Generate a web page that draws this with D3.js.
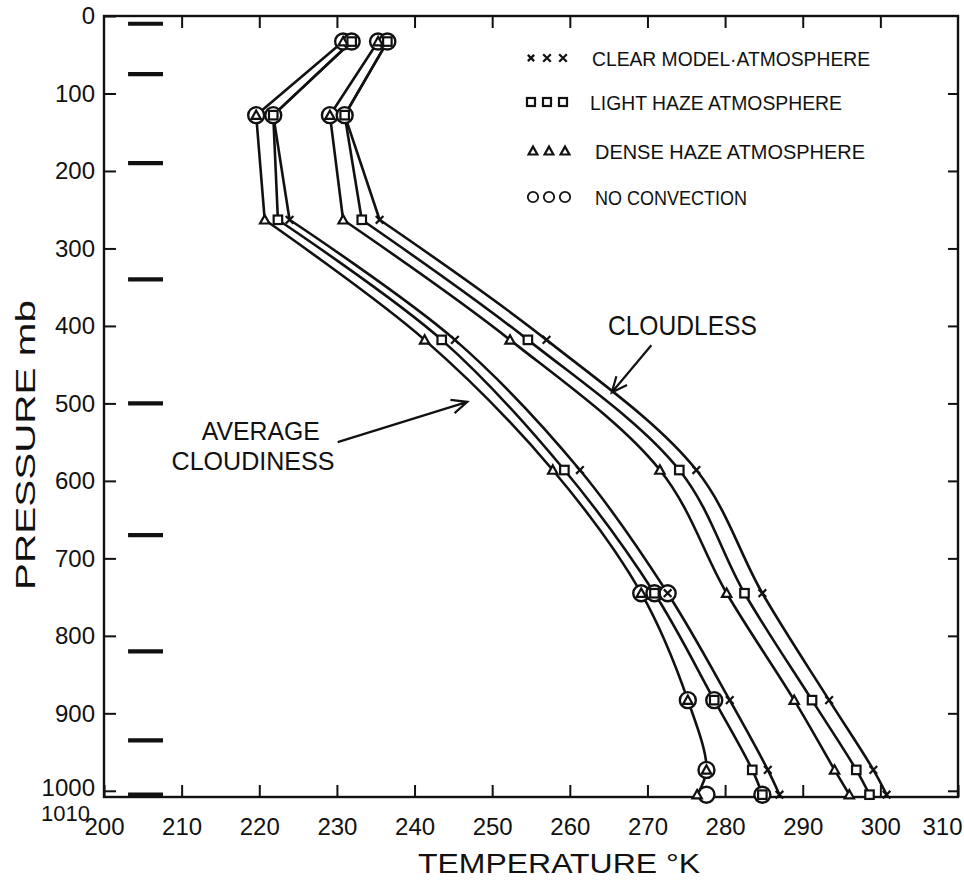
<!DOCTYPE html>
<html>
<head>
<meta charset="utf-8">
<script src="https://cdn.jsdelivr.net/npm/d3@7"></script>
<style>
  html, body { margin: 0; padding: 0; background: #fff; }
  svg { display: block; }
  text { font-family: "Liberation Sans", Arial, sans-serif; fill: #111; }
</style>
</head>
<body>
<svg id="chart" width="964" height="887"></svg>
<script>
// Pressure levels (mb) of the model layers where temperatures are plotted
const pressureLevels = [33, 128, 263, 418, 586, 745, 883, 973, 1005];

// Cloudless sky, temperature (K) at each level
const cloudlessClear = [236.5, 231.0, 235.5, 257.0, 276.3, 284.8, 293.4, 299.1, 300.8];
const cloudlessLight = [236.5, 231.0, 233.2, 254.6, 274.1, 282.5, 291.2, 296.9, 298.6];
const cloudlessDense = [235.3, 229.1, 230.8, 252.3, 271.6, 280.2, 288.9, 294.1, 296.0];

// Average cloudiness, temperature (K) at each level
const averageClear = [231.9, 221.8, 223.9, 245.2, 261.3, 272.6, 280.6, 285.5, 287.0];
const averageLight = [231.9, 221.8, 222.4, 243.5, 259.3, 270.9, 278.6, 283.5, 284.8];
const averageDense = [230.8, 219.6, 220.7, 241.3, 257.8, 269.2, 275.2, 277.6, 276.4];

// No-convection results (circles)
const noConvCloudlessT = [235.3, 236.5, 229.1, 231.0];
const noConvCloudlessP = [33, 33, 128, 128];
const noConvAverageT = [230.8, 231.9, 219.6, 221.8, 269.2, 270.9, 272.6, 275.2, 278.6, 277.6, 277.6, 284.8];
const noConvAverageP = [33, 33, 128, 128, 745, 745, 745, 883, 883, 973, 1005, 1005];

// Model layer boundaries (mb), marked along the left side
const layerBounds = [10, 75, 190, 340, 500, 670, 820, 935, 1005];

// Axis ticks
const tempTicks = [200, 210, 220, 230, 240, 250, 260, 270, 280, 290, 300, 310];
const pressTicks = [0, 100, 200, 300, 400, 500, 600, 700, 800, 900, 1000];

const legendItems = [
  { label: "CLEAR MODEL\u00B7ATMOSPHERE", symbol: "cross" },
  { label: "LIGHT HAZE ATMOSPHERE", symbol: "square" },
  { label: "DENSE HAZE ATMOSPHERE", symbol: "triangle" },
  { label: "NO CONVECTION", symbol: "circle" }
];

const ink = "#111";
const svg = d3.select("#chart");

const x = d3.scaleLinear().domain([200, 310]).range([104, 958]);
const y = d3.scaleLinear().domain([0, 1008]).range([16, 797]);
const plain = d3.format("d");

// ---- frame and axes ----
const axisStyle = g => {
  g.select(".domain").remove();
  g.selectAll(".tick line").attr("stroke", ink).attr("stroke-width", 2);
  g.selectAll(".tick text").attr("fill", ink).style("font-size", "24px")
    .style("font-family", "'Liberation Sans', Arial, sans-serif");
};

const bottomAxis = svg.append("g")
  .attr("transform", `translate(0,${y.range()[1]})`)
  .call(d3.axisBottom(x).tickValues(tempTicks).tickFormat(plain)
    .tickSizeInner(-12).tickSizeOuter(0).tickPadding(21))
  .call(axisStyle);
// last label sits against the page edge
bottomAxis.selectAll(".tick text")
  .filter(d => d === 310)
  .attr("text-anchor", "end").attr("x", 962 - x(310));

svg.append("g")
  .attr("transform", `translate(0,${y.range()[0]})`)
  .call(d3.axisTop(x).tickValues(tempTicks.slice(1, -1)).tickSizeInner(-12).tickSizeOuter(0).tickFormat(""))
  .call(axisStyle);

const leftAxis = svg.append("g")
  .attr("transform", `translate(${x.range()[0]},0)`)
  .call(d3.axisLeft(y).tickValues(pressTicks).tickFormat(plain)
    .tickSizeInner(-12).tickSizeOuter(0).tickPadding(9))
  .call(axisStyle);
leftAxis.selectAll(".tick text").filter(d => d === 1000).attr("dy", "0.2em");

svg.append("g")
  .attr("transform", `translate(${x.range()[1]},0)`)
  .call(d3.axisRight(y).tickValues(pressTicks.slice(1)).tickSizeInner(-10).tickSizeOuter(0).tickFormat(""))
  .call(axisStyle);

// bottom label of the pressure axis
svg.append("text")
  .attr("x", x(200) - 14).attr("y", y(1008) + 16)
  .attr("text-anchor", "end").attr("dominant-baseline", "central")
  .style("font-size", "22px").text("1010");

svg.append("rect")
  .attr("x", x(200)).attr("y", y(0))
  .attr("width", x(310) - x(200)).attr("height", y(1008) - y(0))
  .attr("fill", "none").attr("stroke", ink).attr("stroke-width", 2.4);

// layer boundary dashes
svg.append("g").selectAll("line").data(layerBounds).join("line")
  .attr("x1", x(203.1)).attr("x2", x(207.6))
  .attr("y1", d => y(d)).attr("y2", d => y(d))
  .attr("stroke", ink).attr("stroke-width", 4.2);

// ---- axis titles ----
svg.append("text")
  .attr("x", 559).attr("y", 873)
  .attr("text-anchor", "middle")
  .attr("textLength", 282).attr("lengthAdjust", "spacingAndGlyphs")
  .style("font-size", "27px").text("TEMPERATURE \u00B0K");

svg.append("text")
  .attr("transform", `translate(35,${445}) rotate(-90)`)
  .attr("text-anchor", "middle")
  .attr("textLength", 290).attr("lengthAdjust", "spacingAndGlyphs")
  .style("font-size", "28px").text("PRESSURE  mb");

// ---- curves ----
const series = [
  { values: cloudlessClear, symbol: "cross" },
  { values: cloudlessLight, symbol: "square" },
  { values: cloudlessDense, symbol: "triangle" },
  { values: averageClear, symbol: "cross" },
  { values: averageLight, symbol: "square" },
  { values: averageDense, symbol: "triangle" }
];

const upper = d3.line().x(d => x(d[0])).y(d => y(d[1])).curve(d3.curveLinear);
const lower = d3.line().x(d => x(d[0])).y(d => y(d[1])).curve(d3.curveCatmullRom.alpha(0.5));

const curveG = svg.append("g").attr("fill", "none").attr("stroke", ink)
  .attr("stroke-width", 2.6).attr("stroke-linejoin", "round");

series.forEach(s => {
  const pts = s.values.map((t, i) => [t, pressureLevels[i]]);
  curveG.append("path").attr("d", upper(pts.slice(0, 3)));
  curveG.append("path").attr("d", lower(pts.slice(2)));
});

// ---- markers ----
function drawSymbol(g, type, cx, cy, scale = 1) {
  if (type === "cross") {
    const h = 4.5 * scale;
    g.append("path")
      .attr("d", `M${cx - h},${cy - h}L${cx + h},${cy + h}M${cx - h},${cy + h}L${cx + h},${cy - h}`)
      .attr("stroke", ink).attr("stroke-width", 2.2).attr("fill", "none");
  } else if (type === "square") {
    const h = 5 * scale;
    g.append("rect").attr("x", cx - h).attr("y", cy - h)
      .attr("width", 2 * h).attr("height", 2 * h)
      .attr("fill", "#fff").attr("stroke", ink).attr("stroke-width", 2.2);
  } else if (type === "triangle") {
    const h = 5.5 * scale;
    g.append("path")
      .attr("d", `M${cx},${cy - h}L${cx + h},${cy + h * 0.8}L${cx - h},${cy + h * 0.8}Z`)
      .attr("fill", "#fff").attr("stroke", ink).attr("stroke-width", 2.2);
  } else if (type === "circle") {
    g.append("circle").attr("cx", cx).attr("cy", cy).attr("r", 8 * scale)
      .attr("fill", "#fff").attr("stroke", ink).attr("stroke-width", 2.4);
  }
}

const markerG = svg.append("g");
noConvCloudlessT.forEach((t, i) => drawSymbol(markerG, "circle", x(t), y(noConvCloudlessP[i])));
noConvAverageT.forEach((t, i) => drawSymbol(markerG, "circle", x(t), y(noConvAverageP[i])));
series.forEach(s => {
  s.values.forEach((t, i) => drawSymbol(markerG, s.symbol, x(t), y(pressureLevels[i]), 0.85));
});

// ---- legend ----
const legendRows = [58, 102, 151, 197];
const legendWidths = [278, 252, 270, 152];
const legendG = svg.append("g");
legendItems.forEach((item, i) => {
  const cy = legendRows[i];
  [0, 1, 2].forEach(k => {
    const sc = item.symbol === "cross" ? (k === 0 ? 0.7 : 0.85) : 0.8;
    const cx = 531 + k * 16;
    if (item.symbol === "circle") {
      legendG.append("circle").attr("cx", cx + 2).attr("cy", cy).attr("r", 5.2)
        .attr("fill", "none").attr("stroke", ink).attr("stroke-width", 1.8);
    } else {
      drawSymbol(legendG, item.symbol, cx + (item.symbol === "triangle" ? 2 : 0), cy, sc);
    }
  });
  legendG.append("text")
    .attr("x", i === 0 ? 592 : (i === 1 ? 590 : 595)).attr("y", cy)
    .attr("dominant-baseline", "central")
    .attr("textLength", legendWidths[i]).attr("lengthAdjust", "spacingAndGlyphs")
    .style("font-size", "21px").text(item.label);
});

// ---- annotations ----
function arrow(g, from, to) {
  const x1 = x(from[0]), y1 = y(from[1]), x2 = x(to[0]), y2 = y(to[1]);
  const ang = Math.atan2(y2 - y1, x2 - x1);
  const len = 17, spread = 0.42;
  g.append("path")
    .attr("d", `M${x1},${y1}L${x2},${y2}` +
      `M${x2 - len * Math.cos(ang - spread)},${y2 - len * Math.sin(ang - spread)}L${x2},${y2}` +
      `L${x2 - len * Math.cos(ang + spread)},${y2 - len * Math.sin(ang + spread)}`)
    .attr("fill", "none").attr("stroke", ink).attr("stroke-width", 2.2)
    .attr("stroke-linejoin", "miter");
}

const annG = svg.append("g");
annG.append("text")
  .attr("x", x(274.5)).attr("y", y(399))
  .attr("text-anchor", "middle").attr("dominant-baseline", "central")
  .attr("textLength", 149).attr("lengthAdjust", "spacingAndGlyphs")
  .style("font-size", "28px").text("CLOUDLESS");
arrow(annG, [270.5, 425], [265.4, 486]);

annG.append("text")
  .attr("x", x(220.2)).attr("y", y(535))
  .attr("text-anchor", "middle").attr("dominant-baseline", "central")
  .attr("textLength", 118).attr("lengthAdjust", "spacingAndGlyphs")
  .style("font-size", "25px").text("AVERAGE");
annG.append("text")
  .attr("x", x(219.2)).attr("y", y(574))
  .attr("text-anchor", "middle").attr("dominant-baseline", "central")
  .attr("textLength", 163).attr("lengthAdjust", "spacingAndGlyphs")
  .style("font-size", "25px").text("CLOUDINESS");
arrow(annG, [230.1, 550], [246.8, 498]);
</script>
</body>
</html>
